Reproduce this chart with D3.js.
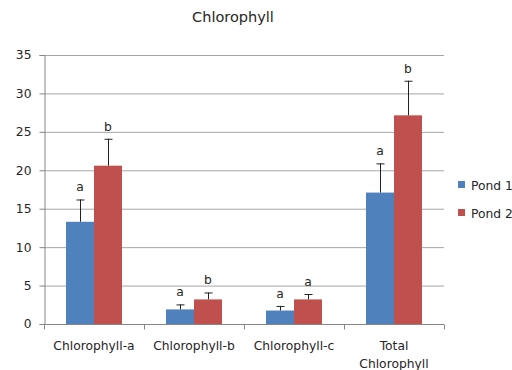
<!DOCTYPE html>
<html><head><meta charset="utf-8">
<script src="https://cdn.jsdelivr.net/npm/d3@7"></script>
<style>body{margin:0;background:#fff}svg{display:block}text{font-family:"DejaVu Sans",sans-serif;fill:#262626}</style>
</head><body><svg id="c" width="512" height="370"></svg>
<script>
const categories = ["Chlorophyll-a","Chlorophyll-b","Chlorophyll-c","Total Chlorophyll"];
const series = ["Pond 1","Pond 2"];
const pond1 = [13.3, 1.9, 1.75, 17.1];
const pond2 = [20.6, 3.2, 3.2, 27.15];
const pond1Err = [2.9, 0.65, 0.6, 3.8];
const pond2Err = [3.5, 0.9, 0.7, 4.5];
const pond1Letters = ["a","a","a","a"];
const pond2Letters = ["b","b","a","b"];
const yTicks = [0,5,10,15,20,25,30,35];
const colors = ["#4F81BD","#C0504D"];

const svg = d3.select("#c");
const L=44, R=444, T=55, B=324;
const FS = "12.3px";
const x = d3.scaleBand().domain(categories).range([L,R]);
const xs = d3.scaleBand().domain(series).range([0,56]);
const y = d3.scaleLinear().domain([0,35]).range([B,T]);

svg.append("text").attr("x",233).attr("y",22).attr("text-anchor","middle").style("font-size","14.5px").text("Chlorophyll");

// grid
svg.append("g").selectAll("line").data(yTicks.filter(d=>d>0)).join("line")
  .attr("x1",L).attr("x2",R).attr("y1",d=>y(d)+0.5).attr("y2",d=>y(d)+0.5)
  .attr("stroke","#a6a6a6").attr("stroke-width",1);

// y axis
const ya = svg.append("g").attr("transform",`translate(${L+0.5},0)`).call(d3.axisLeft(y).tickValues(yTicks).tickSize(5).tickPadding(8));
ya.select(".domain").attr("stroke","#868686");
ya.selectAll(".tick line").attr("stroke","#868686");
ya.selectAll("text").style("font-size",FS).style("font-family","DejaVu Sans").attr("fill","#262626");

const data = categories.map((c,i)=>({c, vals:[
  {s:series[0], v:pond1[i], e:pond1Err[i], l:pond1Letters[i]},
  {s:series[1], v:pond2[i], e:pond2Err[i], l:pond2Letters[i]}]}));

const g = svg.append("g").selectAll("g").data(data).join("g")
  .attr("transform",d=>`translate(${x(d.c)+x.bandwidth()/2-28},0)`);
const b = g.selectAll("g").data(d=>d.vals).join("g");
b.append("rect").attr("x",d=>xs(d.s)).attr("width",xs.bandwidth()).attr("y",d=>y(d.v)).attr("height",d=>B-y(d.v))
  .attr("fill",(d,i)=>colors[i]);
b.append("line").attr("x1",d=>xs(d.s)+14.5).attr("x2",d=>xs(d.s)+14.5).attr("y1",d=>y(d.v)).attr("y2",d=>y(d.v+d.e))
  .attr("stroke","#222");
b.append("line").attr("x1",d=>xs(d.s)+10.5).attr("x2",d=>xs(d.s)+18.5).attr("y1",d=>y(d.v+d.e)+0.5).attr("y2",d=>y(d.v+d.e)+0.5)
  .attr("stroke","#222");
b.append("text").attr("x",d=>xs(d.s)+14).attr("y",d=>y(d.v+d.e)-8).attr("text-anchor","middle").style("font-size",FS).text(d=>d.l);

// x axis
const xa = svg.append("g").attr("transform",`translate(0,${B+0.5})`);
xa.append("line").attr("x1",L).attr("x2",R).attr("stroke","#868686");
xa.selectAll(".t").data([...categories.map(c=>x(c)), R]).join("line").attr("x1",d=>d+0.5).attr("x2",d=>d+0.5).attr("y1",0).attr("y2",5).attr("stroke","#868686");
categories.forEach(c=>{
  const words = c==="Total Chlorophyll" ? ["Total","Chlorophyll"] : [c];
  words.forEach((w,j)=>{
    xa.append("text").attr("x",x(c)+x.bandwidth()/2).attr("y",25+j*18).attr("text-anchor","middle").style("font-size",FS).text(w);
  });
});

// legend
const lg = svg.append("g").selectAll("g").data(series).join("g").attr("transform",(d,i)=>`translate(458,${181+i*28})`);
lg.append("rect").attr("width",7).attr("height",7).attr("fill",(d,i)=>colors[i]);
lg.append("text").attr("x",13).attr("y",8.5).style("font-size",FS).text(d=>d);
</script></body></html>
